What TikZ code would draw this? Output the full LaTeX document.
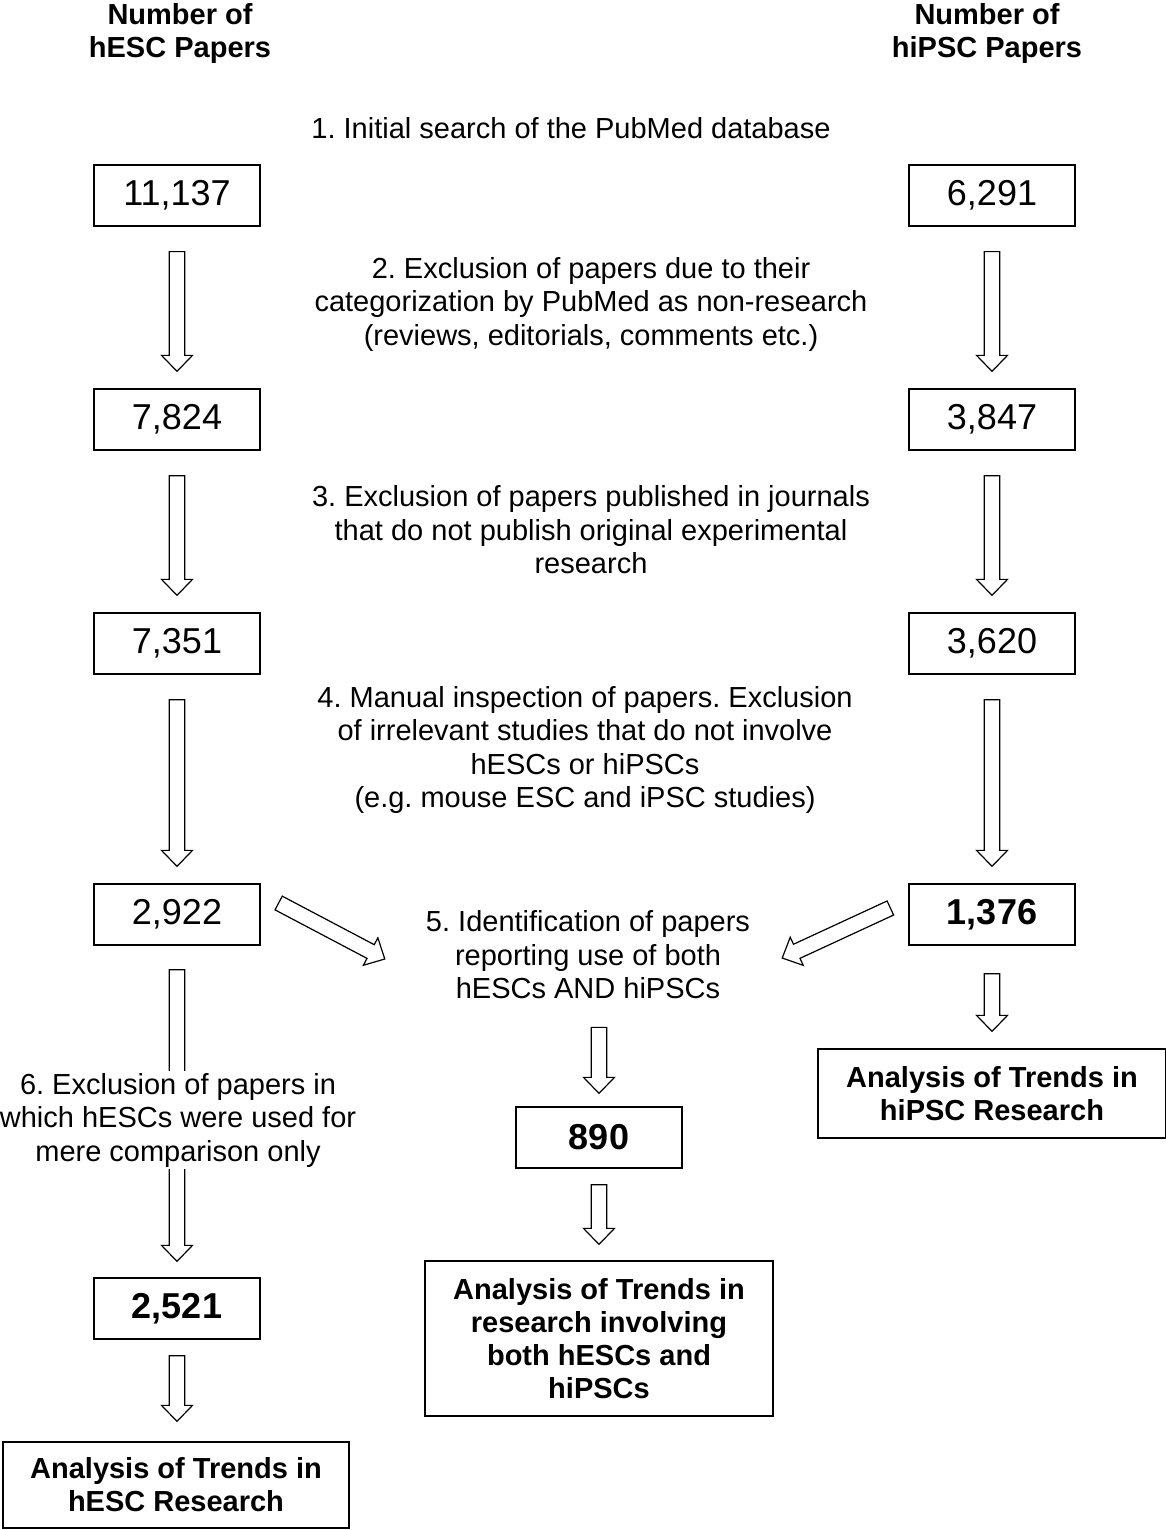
\documentclass[tikz,border=0pt]{standalone}
\usepackage{fontspec}
\setmainfont{Liberation Sans}
\usetikzlibrary{calc}
\frenchspacing

\newcommand{\hollowarrow}[2]{%
  \coordinate (ah) at ($(#2)!16pt!(#1)$);
  \draw[blockarrow] ($(#1)!7.75pt!90:(#2)$) -- ($(ah)!7.75pt!90:(#2)$) -- ($(ah)!15.5pt!90:(#2)$) -- (#2)
    -- ($(ah)!15.5pt!-90:(#2)$) -- ($(ah)!7.75pt!-90:(#2)$) -- ($(#1)!7.75pt!-90:(#2)$) -- cycle;}

\begin{document}
\begin{tikzpicture}[x=1pt, y=-1pt,
    numbox/.style={draw, line width=1.3pt, minimum width=166pt, minimum height=61pt, inner sep=0pt, font=\fontsize{36}{40}\selectfont},
    boldnum/.style={numbox, font=\fontsize{36}{40}\selectfont\bfseries},
    steptext/.style={align=center, inner sep=2pt, font=\fontsize{29}{33.5}\selectfont},
    headtext/.style={align=center, inner sep=0pt, font=\fontsize{29}{33}\selectfont\bfseries},
    resultbox/.style={draw, line width=1.3pt, align=center, inner sep=0pt, font=\fontsize{29}{33}\selectfont\bfseries},
    blockarrow/.style={line width=1.2pt, fill=white, line join=miter}]
  \useasboundingbox (0,0) rectangle (1166,1530);

  \node[headtext] (lhead) at (180,33.5) {Number of\\hESC Papers};
  \node[headtext] (rhead) at (987,33.5) {Number of\\hiPSC Papers};

  \node[steptext] (s1) at (571,128) {1. Initial search of the PubMed database};
  \node[numbox] (l1) at (177,195.5) {11,137};
  \node[numbox] (r1) at (992,195.5) {6,291};

  \node[steptext] (s2) at (591,304) {2. Exclusion of papers due to their\\categorization by PubMed as non-research\\(reviews, editorials, comments etc.)};
  \node[numbox] (l2) at (177,419.5) {7,824};
  \node[numbox] (r2) at (992,419.5) {3,847};

  \node[steptext] (s3) at (591,530) {3. Exclusion of papers published in journals\\that do not publish original experimental\\research};
  \node[numbox] (l3) at (177,643.5) {7,351};
  \node[numbox] (r3) at (992,643.5) {3,620};

  \node[steptext] (s4) at (585,750) {4. Manual inspection of papers. Exclusion\\of irrelevant studies that do not involve\\hESCs or hiPSCs\\(e.g. mouse ESC and iPSC studies)};
  \node[numbox] (l4) at (177,914.5) {2,922};
  \node[boldnum] (r4) at (992,914.5) {1,376};

  \node[steptext] (s5) at (588,955) {5. Identification of papers\\reporting use of both\\hESCs AND hiPSCs};
  \node[boldnum] (m5) at (599,1137.5) {890};
  \node[resultbox, minimum width=348pt, minimum height=155pt] (mres) at (599,1338.5) {Analysis of Trends in\\research involving\\both hESCs and\\hiPSCs};

  \node[resultbox, minimum width=348pt, minimum height=89pt] (rres) at (992,1093.5) {Analysis of Trends in\\hiPSC Research};

  \node[boldnum] (l5) at (177,1308.5) {2,521};
  \node[resultbox, minimum width=346pt, minimum height=86pt] (lres) at (176,1485) {Analysis of Trends in\\hESC Research};

  \foreach \a/\b in {l1/l2, l2/l3, l3/l4, r1/r2, r2/r3, r3/r4} {
    \coordinate (\a-out) at ([yshift=-25pt]\a.south);
    \coordinate (\b-in) at ([yshift=17pt]\b.north);
    \hollowarrow{\a-out}{\b-in}
  }

  \coordinate (d1s) at ([shift={(18pt,11.5pt)}]l4.east);
  \coordinate (d1e) at ([shift={(-39pt,-4pt)}]s5.west);
  \hollowarrow{d1s}{d1e}
  \coordinate (d2s) at ([shift={(-18pt,6.5pt)}]r4.west);
  \coordinate (d2e) at ([shift={(30pt,-3pt)}]s5.east);
  \hollowarrow{d2s}{d2e}

  \coordinate (s5-out) at ([yshift=-26pt]s5.south -| m5.north);
  \coordinate (m5-in) at ([yshift=13pt]m5.north);
  \hollowarrow{s5-out}{m5-in}
  \coordinate (m5-out) at ([yshift=-16pt]m5.south);
  \coordinate (mres-in) at ([yshift=16pt]mres.north);
  \hollowarrow{m5-out}{mres-in}

  \coordinate (r4-out) at ([yshift=-28pt]r4.south);
  \coordinate (rres-in) at ([yshift=17pt]rres.north);
  \hollowarrow{r4-out}{rres-in}

  \coordinate (l4-out) at ([yshift=-24pt]l4.south);
  \coordinate (l5-in) at ([yshift=16pt]l5.north);
  \hollowarrow{l4-out}{l5-in}
  \node[steptext, fill=white] (s6) at (178,1120) {6. Exclusion of papers in\\which hESCs were used for\\mere comparison only};

  \coordinate (l5-out) at ([yshift=-16pt]l5.south);
  \coordinate (lres-in) at ([yshift=20pt]lres.north -| l5.south);
  \hollowarrow{l5-out}{lres-in}
\end{tikzpicture}
\end{document}
